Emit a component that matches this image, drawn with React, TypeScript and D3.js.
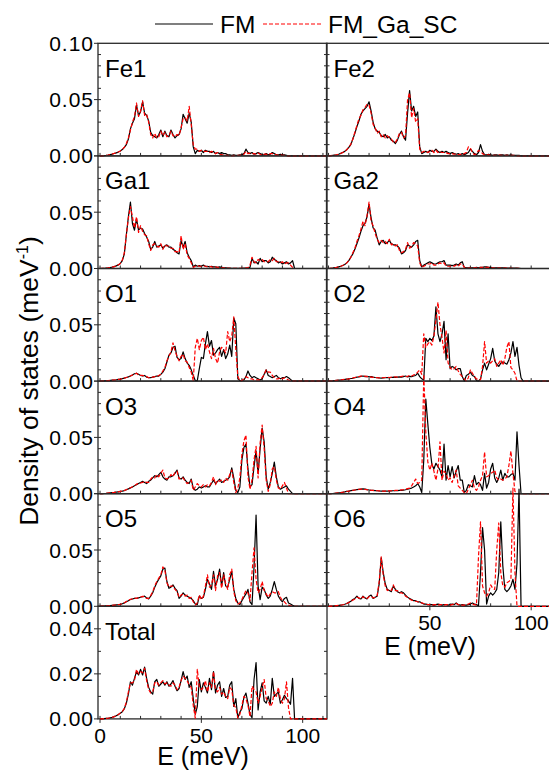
import React from 'react';
import * as d3 from 'd3';

const WIDTH = 549;
const HEIGHT = 770;
const FONT = '"Liberation Sans", Arial, Helvetica, sans-serif';

// Energy grid, meV (1 meV step)
const energy = d3.range(0, 113);
// DOS arrays are given in units of 1e-3 meV^-1
const UNIT = 1e-3;

const fe1FM = [
  0, 0, 0.3, 0.5, 0.8, 1.2, 1.6, 2.1, 2.7, 3.4,
  4.3, 5.6, 7.5, 10, 15, 24, 29, 33, 45, 36,
  39, 48, 38, 36, 31, 21, 18, 17, 16, 19,
  23, 17, 22, 18, 17, 23, 19, 16, 18, 19,
  24, 37, 33, 29, 38, 30, 8, 2, 5, 4,
  5, 3, 5, 4, 4, 3, 4, 2, 3, 2,
  3, 2, 2, 1, 1, 0.5, 1, 0.5, 0.5, 1,
  1, 2, 6, 3, 2, 3, 1.5, 2, 3, 2,
  1, 1, 2, 1, 1.5, 3, 2, 1, 1, 1.5,
  1, 1, 0.5, 0, 0, 0, 0, 0, 0, 0,
  0, 0, 0, 0, 0, 0, 0, 0, 0, 0, 0, 0, 0,
];
const fe1SC = [
  0, 0, 0.3, 0.5, 0.8, 1.2, 1.7, 2.2, 2.8, 3.5,
  4.4, 5.8, 7.8, 11, 16, 23, 30, 35, 47, 35,
  40, 49, 36, 37, 30, 19, 16, 20, 16, 17,
  22, 18, 21, 17, 18, 22, 18, 17, 19, 18,
  25, 33, 34, 31, 44, 28, 10, 6, 6, 4,
  5, 4, 4, 4, 3, 4, 3, 2, 3, 1.5,
  1, 1, 0.5, 0.5, 0, 0, 0.5, 0, 0.5, 0.5,
  1, 1.5, 4, 2, 2.5, 2, 2, 1.5, 2.5, 1.5,
  1, 1.5, 1.5, 1, 2, 2, 1.5, 1, 0.5, 1,
  0.5, 0.5, 0, 0, 0, 0, 0, 0, 0, 0,
  0, 0, 0, 0, 0, 0, 0, 0, 0, 0, 0, 0, 0,
];
const fe2FM = [
  0, 0.2, 0.4, 0.7, 1, 1.5, 2.2, 3, 4, 5.5,
  7.5, 10, 15, 20, 26, 31, 37, 40, 42, 44,
  48, 40, 30, 24, 22, 21, 18, 17, 19, 16,
  17, 14, 13, 11, 14, 19, 22, 17, 14, 38,
  58, 40, 44, 35, 39, 8, 2, 3, 4, 3,
  5, 4, 4, 6, 4, 3, 4, 3, 4, 3,
  2, 3, 2, 1.5, 2, 1, 2, 1, 2, 3,
  6, 4, 2, 1, 3, 10, 4, 1, 1, 1.5,
  1, 0.5, 1, 1, 0.5, 1, 1, 0.5, 1, 0.5,
  1, 0.5, 0.5, 0.5, 0.5, 0, 0, 0, 0, 0,
  0, 0, 0, 0, 0, 0, 0, 0, 0, 0, 0, 0, 0,
];
const fe2SC = [
  0, 0.2, 0.4, 0.7, 1, 1.5, 2.2, 3, 4, 5.5,
  7.5, 10.5, 15, 21, 27, 33, 36, 41, 43, 46,
  45, 38, 28, 25, 20, 22, 17, 19, 16, 18,
  16, 15, 12, 12, 15, 20, 21, 16, 18, 50,
  56, 34, 42, 30, 33, 6, 3, 4, 4, 3,
  4, 5, 3, 5, 3, 4, 3, 3, 3, 2,
  2, 2, 1.5, 2, 1, 1.5, 1, 2, 3, 8,
  7, 3, 1, 2, 5, 4, 2, 1, 1, 1,
  0.5, 0.5, 0.5, 0.5, 1, 0.5, 0.5, 0.5, 0.5, 0.5,
  0.5, 0.5, 0.5, 0, 0, 0, 0, 0, 0, 0,
  0, 0, 0, 0, 0, 0, 0, 0, 0, 0, 0, 0, 0,
];
const ga1FM = [
  0, 0.1, 0.2, 0.4, 0.6, 0.9, 1.2, 1.7, 2.3, 3.2,
  4.5, 7, 13, 30, 46, 59, 40, 34, 44, 34,
  36, 35, 31, 28, 24, 17, 19, 24, 19, 20,
  21, 18, 20, 21, 19, 19, 17, 16, 14, 13,
  25, 19, 24, 14, 10, 7, 1.5, 3, 2, 2.5,
  2, 3, 2, 2, 1.5, 2, 1.5, 1.5, 1, 1.5,
  1, 0.5, 0.5, 0.3, 0.3, 0.2, 0.2, 0.2, 0.2, 0.2,
  0.2, 0.3, 0.3, 0.5, 1, 9, 5, 6, 4, 9,
  6, 7, 7, 5, 6, 10, 8, 7, 5, 6,
  4, 5, 6, 4, 5, 7, 0, 0, 0, 0,
  0, 0, 0, 0, 0, 0, 0, 0, 0, 0, 0, 0, 0,
];
const ga1SC = [
  0, 0.1, 0.2, 0.4, 0.6, 0.9, 1.2, 1.7, 2.3, 3.2,
  4.5, 7.5, 14, 30, 45, 55, 46, 36, 46, 32,
  38, 33, 30, 29, 22, 16, 21, 22, 20, 19,
  22, 17, 21, 20, 20, 18, 18, 15, 15, 14,
  29, 17, 22, 12, 9, 5, 1, 2, 2.5, 2,
  2, 2.5, 2, 1.5, 2, 1.5, 1, 1.5, 1, 1,
  0.5, 0.5, 0.3, 0.3, 0.2, 0.2, 0.2, 0.2, 0.2, 0.2,
  0.2, 0.3, 0.5, 0.8, 3, 10, 6, 5, 8, 7,
  8, 6, 6, 6, 8, 7, 9, 6, 6, 5,
  6, 4, 5, 5, 3, 1, 0, 0, 0, 0,
  0, 0, 0, 0, 0, 0, 0, 0, 0, 0, 0, 0, 0,
];
const ga2FM = [
  0, 0.2, 0.4, 0.7, 1, 1.5, 2, 2.7, 3.5, 5,
  7, 10, 13, 17, 22, 27, 33, 38, 40, 46,
  57, 45, 36, 34, 27, 21, 24, 25, 22, 23,
  25, 22, 21, 21, 20, 18, 13, 14, 16, 21,
  20, 19, 21, 24, 25, 7, 1.5, 3, 4, 5,
  6, 5, 4, 4, 5, 6, 6, 7, 3, 3,
  3, 2.5, 3, 4, 3, 5, 6, 1, 0.5, 0.5,
  0.5, 0.5, 0.5, 1, 0.5, 1, 1, 1.5, 1.5, 1,
  1, 0.5, 0.5, 0.5, 0.5, 0.5, 0.5, 0.5, 0.3, 0.3,
  0.3, 0.3, 0.3, 0.3, 0.2, 0, 0, 0, 0, 0,
  0, 0, 0, 0, 0, 0, 0, 0, 0, 0, 0, 0, 0,
];
const ga2SC = [
  0, 0.2, 0.4, 0.7, 1, 1.5, 2, 2.7, 3.6, 5,
  7, 10, 14, 18, 24, 29, 35, 42, 38, 47,
  59, 42, 38, 31, 26, 23, 25, 23, 24, 22,
  26, 21, 22, 20, 21, 16, 14, 15, 17, 23,
  18, 20, 23, 22, 20, 5, 1, 2, 3, 4,
  4, 5, 3, 3, 4, 5, 4, 5, 2, 2,
  2, 2.5, 2, 3, 2, 4, 4, 1, 0.5, 0.3,
  0.3, 0.5, 0.5, 0.5, 0.5, 1, 1, 1, 1, 1,
  0.5, 0.5, 0.3, 0.3, 0.3, 0.3, 0.3, 0.3, 0.3, 0.3,
  0.2, 0.2, 0.2, 0.2, 0.2, 0, 0, 0, 0, 0,
  0, 0, 0, 0, 0, 0, 0, 0, 0, 0, 0, 0, 0,
];
const o1FM = [
  0, 0.1, 0.2, 0.3, 0.5, 0.6, 0.8, 1, 1.2, 1.5,
  1.8, 2.2, 2.7, 3.2, 3.8, 4.5, 5.5, 6.5, 7, 6,
  5, 4.5, 5, 3.5, 3, 3, 3.5, 4, 4.5, 4.5,
  6, 8, 11, 17, 23, 25, 30, 31, 21, 19,
  20, 26, 20, 16, 14, 10, 5, 0.5, 0.5, 11,
  21, 20, 33, 44, 31, 36, 23, 25, 28, 30,
  22, 28, 20, 24, 32, 22, 56, 51, 2, 0.5,
  0.5, 1, 4, 9, 5, 3, 4, 3, 2, 1,
  2, 6, 10, 5, 4, 3, 4, 5, 3, 2,
  3, 3, 4, 3, 1.5, 0, 0, 0, 0, 0,
  0, 0, 0, 0, 0, 0, 0, 0, 0, 0, 0, 0, 0,
];
const o1SC = [
  0, 0.1, 0.2, 0.3, 0.5, 0.6, 0.8, 1, 1.2, 1.5,
  1.8, 2.2, 2.7, 3.2, 3.8, 4.5, 5.5, 6, 7, 5.5,
  5, 5, 4.5, 4, 3, 3, 3.5, 4, 4, 5,
  6, 9, 12, 18, 22, 26, 34, 27, 22, 18,
  22, 24, 18, 17, 12, 8, 0.5, 30, 38, 28,
  36, 39, 28, 33, 26, 20, 29, 20, 16, 26,
  30, 28, 25, 44, 35, 40, 57, 28, 4, 0.3,
  0.5, 2, 4, 3, 2, 2, 1, 1, 1, 1,
  3, 6, 10, 8, 8, 5, 3, 2, 2, 3,
  2, 3, 2, 1, 0.5, 0, 0, 0, 0, 0,
  0, 0, 0, 0, 0, 0, 0, 0, 0, 0, 0, 0, 0,
];
const o2FM = [
  0, 0.1, 0.2, 0.4, 0.6, 0.8, 1, 1.3, 1.5, 1.8,
  2, 2.3, 2.5, 3, 3.5, 3.8, 4.2, 4.5, 4, 4.2,
  3.8, 4, 3.5, 3.2, 3, 2.8, 2.7, 2.8, 3, 3.2,
  3, 3.2, 3.5, 3.3, 3.6, 3.8, 3.5, 4, 4.5, 3.8,
  4.2, 4, 4.5, 5, 7, 4, 2, 1, 38, 35,
  38, 36, 40, 66, 42, 35, 42, 53, 19, 42,
  11, 13, 12, 10, 11, 11, 4, 0, 5, 6,
  8, 5, 4, 0.5, 0, 2, 10, 16, 10, 15,
  20, 29, 18, 15, 13, 16, 17, 16, 15, 19,
  25, 35, 22, 30, 14, 3, 0, 0, 0, 0,
  0, 0, 0, 0, 0, 0, 0, 0, 0, 0, 0, 0, 0,
];
const o2SC = [
  0, 0.1, 0.2, 0.4, 0.6, 0.8, 1, 1.3, 1.6, 1.8,
  2, 2.4, 2.8, 3.2, 3.6, 4, 4.5, 4.2, 4.4, 4,
  3.8, 3.6, 3.3, 3, 3, 2.8, 3, 3, 3.2, 3.4,
  3.2, 3.5, 3.6, 3.8, 3.5, 4, 4.2, 4.5, 4, 4.2,
  5, 4.5, 5.5, 6, 8, 10, 6, 42, 30, 33,
  35, 32, 40, 54, 70, 50, 39, 25, 45, 16,
  12, 10, 11, 13, 9, 6, 4, 2, 0, 3,
  10, 7, 4, 2, 1.5, 1, 13, 35, 16, 18,
  16, 18, 20, 13, 16, 19, 14, 20, 30, 35,
  12, 10, 7, 0, 0, 0, 0, 0, 0, 0,
  0, 0, 0, 0, 0, 0, 0, 0, 0, 0, 0, 0, 0,
];
const o3FM = [
  0, 0.1, 0.2, 0.3, 0.5, 0.7, 0.9, 1.1, 1.4, 1.7,
  2, 2.3, 2.8, 3.5, 4.3, 5.2, 6, 7, 8, 9,
  10, 11, 10, 9, 11, 12, 14, 16, 15, 17,
  19, 15, 13, 12, 15, 15, 16, 18, 21, 14,
  13, 15, 12, 10, 9, 13, 5, 3, 4, 6,
  5, 6, 7, 6, 6, 9, 12, 9, 11, 13,
  10, 11, 12, 13, 15, 23, 14, 3, 1, 6,
  30, 41, 44, 22, 6, 8, 24, 38, 18, 40,
  58, 46, 15, 4, 10, 18, 28, 15, 6, 4,
  5, 6, 7, 4, 2, 0, 0, 0, 0, 0,
  0, 0, 0, 0, 0, 0, 0, 0, 0, 0, 0, 0, 0,
];
const o3SC = [
  0, 0.1, 0.2, 0.3, 0.5, 0.7, 0.9, 1.1, 1.4, 1.7,
  2, 2.4, 2.9, 3.6, 4.4, 5.3, 6.2, 7, 8.5, 9,
  9.5, 10, 11, 10, 10, 13, 15, 14, 17, 15,
  18, 21, 14, 13, 14, 17, 15, 19, 20, 13,
  14, 14, 11, 9, 10, 12, 3, 6, 9, 7,
  6, 8, 6, 8, 7, 10, 15, 8, 12, 11,
  12, 10, 14, 12, 17, 21, 10, 1, 5, 14,
  35, 47, 52, 15, 4, 12, 30, 42, 14, 45,
  61, 40, 12, 2, 8, 22, 24, 12, 5, 4,
  7, 10, 5, 0, 0, 0, 0, 0, 0, 0,
  0, 0, 0, 0, 0, 0, 0, 0, 0, 0, 0, 0, 0,
];
const o4FM = [
  0, 0.1, 0.2, 0.4, 0.6, 0.8, 1, 1.3, 1.6, 2,
  2.3, 2.7, 3, 3.3, 3.6, 3.8, 4, 4.2, 4, 3.6,
  3.3, 3, 3, 2.8, 2.6, 2.4, 2.3, 2.2, 2.2, 2.3,
  2.4, 2.5, 2.6, 2.7, 2.8, 3, 3, 3.2, 3.5, 4,
  4.5, 5, 6, 7, 9, 6, 1, 30, 84, 62,
  41, 26, 22, 27, 24, 21, 15, 44, 12, 25,
  15, 24, 14, 20, 25, 12, 12, 1, 3, 8,
  7, 6, 16, 8, 10, 8, 3, 18, 5, 10,
  22, 27, 14, 10, 14, 21, 12, 18, 15, 15,
  17, 18, 12, 55, 25, 0, 0, 0, 0, 0,
  0, 0, 0, 0, 0, 0, 0, 0, 0, 0, 0, 0, 0,
];
const o4SC = [
  0, 0.1, 0.2, 0.4, 0.6, 0.8, 1, 1.3, 1.6, 2,
  2.3, 2.7, 3, 3.3, 3.6, 3.9, 4.1, 4, 3.8, 3.5,
  3.2, 3, 2.9, 2.7, 2.6, 2.5, 2.4, 2.3, 2.3, 2.4,
  2.5, 2.6, 2.7, 2.9, 3, 3.2, 3.4, 3.6, 4, 4.5,
  5, 7, 10, 13, 9, 10, 12, 106, 55, 28,
  21, 27, 20, 12, 22, 46, 12, 20, 18, 12,
  14, 10, 16, 21, 7, 5, 3, 1, 0, 4,
  8, 12, 5, 3, 6, 12, 16, 37, 15, 16,
  18, 19, 21, 14, 12, 13, 12, 13, 15, 25,
  38, 18, 2, 0, 0, 0, 0, 0, 0, 0,
  0, 0, 0, 0, 0, 0, 0, 0, 0, 0, 0, 0, 0,
];
const o5FM = [
  0, 0.1, 0.2, 0.3, 0.4, 0.6, 0.8, 1, 1.2, 1.4,
  1.7, 2.3, 3, 4, 5, 6, 6.5, 7, 7, 7.5,
  8, 8.5, 9, 7.5, 6.5, 9, 12, 17, 21, 24,
  27, 33, 34, 22, 16, 17, 19, 16, 14, 7,
  9, 12, 10, 9, 8, 7, 5, 2, 1.5, 9,
  7, 8, 15, 24, 20, 15, 31, 18, 24, 33,
  18, 30, 18, 17, 24, 31, 15, 7, 3, 1.5,
  5, 8, 11, 15, 4, 1.5, 35, 81, 18, 6,
  17, 15, 10, 7, 9, 15, 22, 15, 9, 6,
  4, 7, 8, 3, 2, 1, 0, 0, 0, 0,
  0, 0, 0, 0, 0, 0, 0, 0, 0, 0, 0, 0, 0,
];
const o5SC = [
  0, 0.1, 0.2, 0.3, 0.4, 0.6, 0.8, 1, 1.2, 1.5,
  1.8, 2.4, 3.1, 4.2, 5.2, 6.2, 6.7, 7.2, 7, 7.8,
  8.3, 8.8, 8.5, 7, 7, 9.5, 13, 18, 22, 25,
  28, 35, 32, 21, 17, 18, 18, 15, 13, 8,
  10, 11, 9, 10, 7, 8, 4, 1, 3, 10,
  6, 9, 18, 28, 17, 19, 28, 14, 27, 30,
  16, 28, 20, 15, 28, 33, 13, 5, 2, 3,
  6, 10, 14, 12, 5, 30, 52, 24, 12, 15,
  22, 14, 11, 8, 11, 13, 12, 12, 13, 8,
  5, 4, 2, 1, 0.5, 0, 0, 0, 0, 0,
  0, 0, 0, 0, 0, 0, 0, 0, 0, 0, 0, 0, 0,
];
const o6FM = [
  0, 0.1, 0.2, 0.4, 0.6, 0.8, 1.1, 1.4, 1.8, 2.5,
  3.5, 4.5, 6, 7, 9, 7, 6.5, 9, 7.5, 6.5,
  9, 10, 7, 8, 9, 20, 43, 30, 20, 15,
  14, 13, 18, 15, 13, 12, 13, 12, 10, 8,
  7, 6, 5, 5, 4, 4, 3, 2, 2, 1.5,
  1.5, 1.5, 1, 1.5, 2, 1.5, 1, 1.5, 1.5, 1,
  1.5, 2, 1.5, 3, 1.5, 1, 1.5, 1, 1, 1.5,
  2, 3, 2, 1.5, 0.5, 30, 70, 50, 2, 9,
  12, 10, 12, 15, 30, 75, 36, 15, 13, 15,
  18, 24, 15, 38, 104, 0, 0, 0, 0, 0,
  0, 0, 0, 0, 0, 0, 0, 0, 0, 0, 0, 0, 0,
];
const o6SC = [
  0, 0.1, 0.2, 0.4, 0.6, 0.8, 1.1, 1.4, 1.8, 2.5,
  3.4, 4.4, 5.5, 6.5, 8, 7.5, 6.5, 8.5, 7, 7,
  8.5, 9, 7.5, 8, 9.5, 22, 44, 28, 18, 14,
  15, 14, 19, 14, 14, 12, 12, 11, 9, 8,
  6.5, 5.5, 5, 4.5, 4, 3.5, 3, 2.5, 2, 1.5,
  1.5, 1, 1.5, 1.5, 1, 1.5, 1.5, 1, 1.5, 1.5,
  1, 1.5, 2, 2.5, 1.5, 1.5, 1, 1, 1.5, 2,
  3, 2, 1.5, 1, 44, 75, 18, 12, 9, 12,
  19, 16, 15, 50, 74, 30, 18, 17, 21, 22,
  24, 105, 30, 0, 0, 0, 0, 0, 0, 0,
  0, 0, 0, 0, 0, 0, 0, 0, 0, 0, 0, 0, 0,
];
const totalFM = [
  0, 0.05, 0.1, 0.2, 0.3, 0.5, 0.7, 1, 1.4, 1.9,
  2.5, 3.2, 4.5, 7, 11, 16.5, 15, 18, 21, 19.5,
  22, 19.5, 23, 18, 14, 12, 11, 16.5, 17.5, 14.5,
  15.5, 16.5, 15, 16.5, 14.5, 15.5, 17, 14.5, 12.5, 13.5,
  17, 21, 17.5, 19, 14, 16.5, 9, 2, 5.5, 17.5,
  12, 16, 14, 11.5, 18, 13, 21, 11.5, 15, 16.5,
  10, 13.5, 9.5, 10, 15, 16.5, 5.5, 9, 0.5, 3,
  4.5, 9.5, 11.5, 7, 2, 0.5, 17.5, 25, 4, 12,
  16, 8, 7, 10, 6.5, 18, 10, 11, 12, 7,
  8.5, 10.5, 9, 8, 6.5, 18, 0, 0, 0, 0,
  0, 0, 0, 0, 0, 0, 0, 0, 0, 0, 0, 0, 0,
];
const totalSC = [
  0, 0.05, 0.1, 0.2, 0.3, 0.5, 0.7, 1, 1.4, 1.9,
  2.6, 3.3, 4.7, 7.5, 12, 16, 16, 17, 22, 20,
  21, 20.5, 22.5, 17, 13, 11.5, 12, 16, 16.5, 15,
  16, 17, 15.5, 16, 15, 14.5, 16, 15, 13, 14,
  17, 19, 18, 17, 15, 14, 6, 0.3, 22, 14,
  13, 14, 17, 12, 16, 14, 21, 13, 12, 14,
  11, 12, 10, 9, 14, 13, 6, 5, 0.3, 2,
  6, 10, 9, 6, 1, 14.5, 13, 12, 7, 10,
  14, 17.5, 9, 8, 5.5, 7, 12, 10, 14, 9,
  7, 9, 16.5, 5, 0, 0, 0, 0, 0, 0,
  0, 0, 0, 0, 0, 0, 0, 0, 0, 0, 0, 0, 0,
];

// Axis ticks
const xMinorTicks = [0, 10, 20, 30, 40, 50, 60, 70, 80, 90, 100, 110];
const pdosMajor = [0, 0.05, 0.1];
const pdosMinor = [0.01, 0.02, 0.03, 0.04, 0.05, 0.06, 0.07, 0.08, 0.09];
const totalMajor = [0, 0.02, 0.04];
const totalMinor = [0.01, 0.02, 0.03, 0.04, 0.05];

// Layout
const COL_X = [98, 326.5];
const PANEL_W = 229;
const TOP = 43.3;
const ROW_H = 112.6;
const X_DOMAIN: [number, number] = [-1, 112];

type Panel = {
  name: string;
  col: number;
  row: number;
  fm: number[];
  sc: number[];
  yMax: number;
  major: number[];
  minor: number[];
  xLabels: number[];
};

const panels: Panel[] = [
  { name: 'Fe1', col: 0, row: 0, fm: fe1FM, sc: fe1SC, yMax: 0.1, major: pdosMajor, minor: pdosMinor, xLabels: [] },
  { name: 'Ga1', col: 0, row: 1, fm: ga1FM, sc: ga1SC, yMax: 0.1, major: pdosMajor, minor: pdosMinor, xLabels: [] },
  { name: 'O1', col: 0, row: 2, fm: o1FM, sc: o1SC, yMax: 0.1, major: pdosMajor, minor: pdosMinor, xLabels: [] },
  { name: 'O3', col: 0, row: 3, fm: o3FM, sc: o3SC, yMax: 0.1, major: pdosMajor, minor: pdosMinor, xLabels: [] },
  { name: 'O5', col: 0, row: 4, fm: o5FM, sc: o5SC, yMax: 0.1, major: pdosMajor, minor: pdosMinor, xLabels: [] },
  { name: 'Total', col: 0, row: 5, fm: totalFM, sc: totalSC, yMax: 0.05, major: totalMajor, minor: totalMinor, xLabels: [0, 50, 100] },
  { name: 'Fe2', col: 1, row: 0, fm: fe2FM, sc: fe2SC, yMax: 0.1, major: pdosMajor, minor: pdosMinor, xLabels: [] },
  { name: 'Ga2', col: 1, row: 1, fm: ga2FM, sc: ga2SC, yMax: 0.1, major: pdosMajor, minor: pdosMinor, xLabels: [] },
  { name: 'O2', col: 1, row: 2, fm: o2FM, sc: o2SC, yMax: 0.1, major: pdosMajor, minor: pdosMinor, xLabels: [] },
  { name: 'O4', col: 1, row: 3, fm: o4FM, sc: o4SC, yMax: 0.1, major: pdosMajor, minor: pdosMinor, xLabels: [] },
  { name: 'O6', col: 1, row: 4, fm: o6FM, sc: o6SC, yMax: 0.1, major: pdosMajor, minor: pdosMinor, xLabels: [50, 100] },
];

const FRAME = '#2a2a2a';

function PanelView({ p }: { p: Panel }) {
  const x0 = COL_X[p.col];
  const top = TOP + p.row * ROW_H;
  const bottom = top + ROW_H;
  const x = d3.scaleLinear().domain(X_DOMAIN).range([x0, x0 + PANEL_W]);
  const y = d3.scaleLinear().domain([0, p.yMax]).range([bottom, top]);
  const line = d3
    .line<number>()
    .x((_, i) => x(energy[i]))
    .y((d) => y(d * UNIT));
  const fmt = d3.format('.2f');
  const left = p.col === 0;
  const labelled = left ? p.major.filter((v) => !(p.row > 0 && v >= p.yMax - 1e-9)) : [];

  return (
    <g>
      <rect x={x0} y={top} width={PANEL_W} height={ROW_H} fill="none" stroke={FRAME} strokeWidth={1.3} />
      {/* x ticks, pointing inward */}
      {xMinorTicks.map((t) => (
        <line key={'xt' + t} x1={x(t)} x2={x(t)} y1={bottom} y2={bottom - 3} stroke={FRAME} strokeWidth={1} />
      ))}
      {p.xLabels.map((t) => (
        <g key={'xl' + t}>
          <line x1={x(t)} x2={x(t)} y1={bottom} y2={bottom + 4} stroke={FRAME} strokeWidth={1} />
          <text x={x(t)} y={bottom + 24} textAnchor="middle" fontSize={21} fontFamily={FONT}>
            {t}
          </text>
        </g>
      ))}
      {/* y minor ticks on both vertical sides, pointing inward */}
      {p.minor.map((t) => (
        <g key={'ym' + t}>
          <line x1={x0} x2={x0 + 3} y1={y(t)} y2={y(t)} stroke={FRAME} strokeWidth={1} />
          <line x1={x0 + PANEL_W} x2={x0 + PANEL_W - 3} y1={y(t)} y2={y(t)} stroke={FRAME} strokeWidth={1} />
        </g>
      ))}
      {left &&
        p.major.map((t) => (
          <line key={'yM' + t} x1={x0} x2={x0 - 4} y1={y(t)} y2={y(t)} stroke={FRAME} strokeWidth={1} />
        ))}
      {labelled.map((t) => (
        <text
          key={'yl' + t}
          x={x0 - 4}
          y={y(t)}
          dy="0.36em"
          textAnchor="end"
          fontSize={21}
          letterSpacing={1}
          fontFamily={FONT}
        >
          {fmt(t)}
        </text>
      ))}
      <path d={line(p.fm) || ''} fill="none" stroke="#000" strokeWidth={1.2} strokeLinejoin="round" />
      <path d={line(p.sc) || ''} fill="none" stroke="#ff0000" strokeWidth={1.2} strokeDasharray="4,2" strokeLinejoin="round" />
      <text x={x0 + 7} y={top + 33.5} fontSize={24} fontFamily={FONT}>
        {p.name}
      </text>
    </g>
  );
}

export default function App() {
  return (
    <svg
      width={WIDTH}
      height={HEIGHT}
      style={{ position: 'absolute', left: 0, top: 0, background: '#fff' }}
      xmlns="http://www.w3.org/2000/svg"
    >
      <rect x={0} y={0} width={WIDTH} height={HEIGHT} fill="#fff" />
      {panels.map((p) => (
        <PanelView key={p.name} p={p} />
      ))}

      {/* legend */}
      <line x1={155} x2={213} y1={24} y2={24} stroke="#000" strokeWidth={1.2} />
      <text x={220} y={33} fontSize={24.5} fontFamily={FONT}>FM</text>
      <line x1={263} x2={321} y1={24} y2={24} stroke="#ff0000" strokeWidth={1.2} strokeDasharray="4,2" />
      <text x={328} y={33} fontSize={24.5} fontFamily={FONT}>FM_Ga_SC</text>

      {/* axis titles */}
      <text x={203} y={765} textAnchor="middle" fontSize={25} fontFamily={FONT}>E (meV)</text>
      <text x={430} y={655} textAnchor="middle" fontSize={25} fontFamily={FONT}>E (meV)</text>
      <text transform="translate(38,381) rotate(-90)" textAnchor="middle" fontSize={26.5} fontFamily={FONT}>
        Density of states (meV<tspan dy={-10} fontSize={16}>-1</tspan>
        <tspan dy={10}>)</tspan>
      </text>
    </svg>
  );
}
